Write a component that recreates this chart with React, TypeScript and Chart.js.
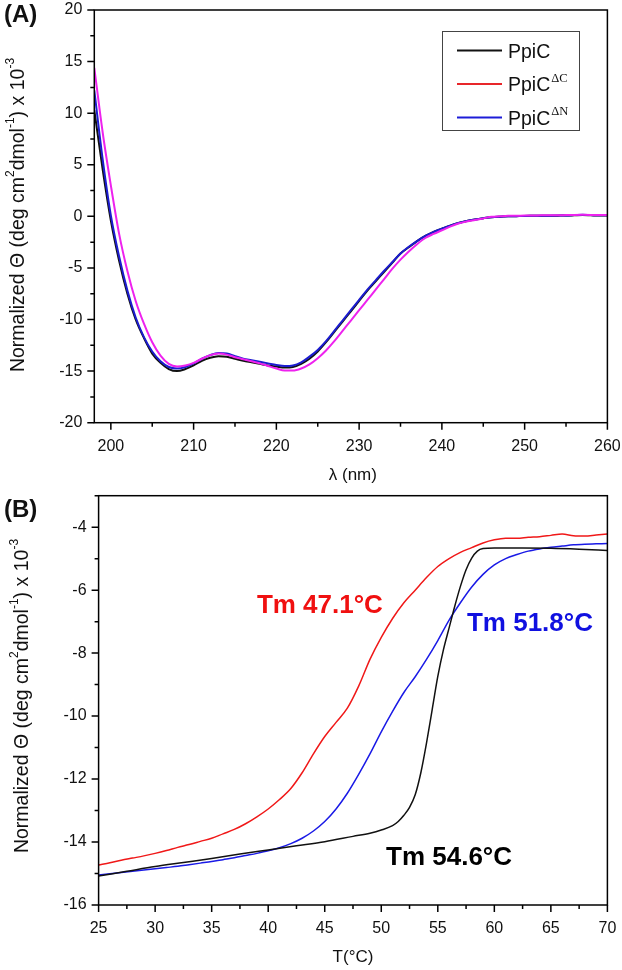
import { useEffect, useRef } from "react";
import { Chart, registerables } from "chart.js";
Chart.register(...registerables);

const FONT = '"Liberation Sans", Arial, sans-serif';
const SERIF = '"Liberation Serif", "Times New Roman", serif';

// ---------- Panel A: CD spectra ----------
const WAVELENGTH = [
  198, 199, 200, 201, 202, 203, 204, 205, 206, 207, 208, 209, 210, 211, 212, 213, 214, 215, 216, 217, 218,
  219, 220, 221, 222, 223, 224, 225, 226, 227, 228, 229, 230, 231, 232, 233, 234, 235, 236, 237, 238, 239,
  240, 241, 242, 243, 244, 245, 246, 247, 248, 249, 250, 251, 252, 253, 254, 255, 256, 257, 258, 259, 260,
];
const PPIC_CD = [
  10.3, 4.6, -0.4, -4.3, -7.5, -10.0, -11.8, -13.3, -14.2, -14.8, -15.0, -14.8, -14.45, -14.0, -13.7, -13.55,
  -13.6, -13.8, -14.0, -14.15, -14.3, -14.45, -14.55, -14.65, -14.6, -14.3, -13.8, -13.1, -12.2, -11.2, -10.2,
  -9.2, -8.2, -7.2, -6.3, -5.4, -4.5, -3.6, -3.0, -2.4, -1.9, -1.5, -1.2, -0.9, -0.65, -0.45, -0.3, -0.18,
  -0.08, -0.03, 0.0, 0.02, 0.04, 0.05, 0.06, 0.06, 0.07, 0.08, 0.1, 0.12, 0.1, 0.08, 0.08,
];
const PPIC_DC_CD = [
  14.4, 8.2, 3.0, -1.7, -5.3, -8.2, -10.4, -12.2, -13.5, -14.3, -14.55, -14.45, -14.2, -13.8, -13.45, -13.3,
  -13.4, -13.65, -13.85, -14.05, -14.25, -14.5, -14.75, -14.95, -14.95, -14.75, -14.35, -13.75, -13.0, -12.1,
  -11.1, -10.1, -9.1, -8.1, -7.1, -6.1, -5.1, -4.2, -3.4, -2.7, -2.1, -1.7, -1.35, -1.0, -0.7, -0.5, -0.35,
  -0.2, -0.05, 0.0, 0.05, 0.05, 0.08, 0.08, 0.1, 0.1, 0.1, 0.12, 0.14, 0.15, 0.14, 0.12, 0.12,
];
const PPIC_DN_CD = [
  12.2, 5.6, 0.1, -3.9, -7.2, -9.8, -11.7, -13.1, -14.05, -14.6, -14.75, -14.6, -14.25, -13.8, -13.45, -13.25,
  -13.3, -13.55, -13.8, -13.95, -14.1, -14.25, -14.4, -14.5, -14.45, -14.15, -13.6, -12.95, -12.1, -11.1,
  -10.1, -9.1, -8.1, -7.1, -6.2, -5.3, -4.45, -3.6, -2.95, -2.4, -1.9, -1.5, -1.2, -0.9, -0.65, -0.45, -0.3,
  -0.18, -0.08, -0.03, 0.0, 0.02, 0.04, 0.05, 0.06, 0.07, 0.08, 0.09, 0.12, 0.15, 0.12, 0.1, 0.1,
];

// ---------- Panel B: thermal melts ----------
const TEMP = [
  25, 26, 27, 28, 29, 30, 31, 32, 33, 34, 35, 36, 37, 38, 39, 40, 41, 42, 43, 44, 45, 46, 47, 48, 49, 50, 51,
  52, 53, 54, 55, 56, 57, 58, 59, 60, 61, 62, 63, 64, 65, 66, 67, 68, 69, 70,
];
const PPIC_DC_MELT = [
  -14.73, -14.66, -14.58, -14.51, -14.44, -14.36, -14.27, -14.17, -14.08, -13.98, -13.88, -13.74, -13.6, -13.42,
  -13.2, -12.95, -12.65, -12.3, -11.8, -11.2, -10.65, -10.2, -9.75, -9.05, -8.2, -7.5, -6.9, -6.4, -6.0, -5.6,
  -5.25, -5.0, -4.8, -4.65, -4.5, -4.4, -4.35, -4.35, -4.32, -4.3, -4.26, -4.22, -4.27, -4.28, -4.25, -4.22,
];
const PPIC_DN_MELT = [
  -15.05, -15.01, -14.97, -14.93, -14.89, -14.85, -14.81, -14.77, -14.72, -14.67, -14.62, -14.56, -14.5, -14.43,
  -14.36, -14.28, -14.18, -14.05, -13.88, -13.65, -13.35, -12.95, -12.45, -11.85, -11.2, -10.5, -9.85, -9.25,
  -8.75, -8.2, -7.6, -6.95, -6.4, -5.9, -5.5, -5.2, -5.0, -4.87, -4.76, -4.69, -4.64, -4.6, -4.56, -4.54, -4.53,
  -4.52,
];
const TEMP_PPIC = [
  25, 27.5, 30, 32.5, 35, 37.5, 40, 42.5, 45, 47.5, 49, 50, 51, 51.5, 52, 52.5, 53, 53.5, 54, 54.5, 55, 55.5,
  56, 56.5, 57, 57.5, 58, 58.5, 59, 60, 62.5, 65, 67.5, 70,
];
const PPIC_MELT = [
  -15.08, -14.93, -14.78, -14.65, -14.52, -14.38, -14.25, -14.12, -13.99, -13.82, -13.72, -13.62, -13.48, -13.35,
  -13.15, -12.9, -12.5, -11.8, -10.86, -9.8, -8.74, -7.89, -7.2, -6.51, -5.88, -5.35, -4.98, -4.76, -4.68,
  -4.66, -4.66, -4.67, -4.7, -4.74,
];

const TM_LABELS = [
  { text: "Tm 47.1°C", color: "#f01010", t: 39.0, v: -6.71 },
  { text: "Tm 51.8°C", color: "#1010e0", t: 57.58, v: -7.29 },
  { text: "Tm 54.6°C", color: "#000000", t: 50.42, v: -14.73 },
];

const LEGEND_ITEMS = [
  { name: "PpiC", sup: "", color: "#111111" },
  { name: "PpiC", sup: "ΔC", color: "#e8262a" },
  { name: "PpiC", sup: "ΔN", color: "#1c1cd8" },
];

type Seg = { t: string; sup?: boolean };
const Y_TITLE: Seg[] = [
  { t: "Normalized Θ (deg cm" },
  { t: "2", sup: true },
  { t: "dmol" },
  { t: "-1", sup: true },
  { t: ") x 10" },
  { t: "-3", sup: true },
];

function drawRich(ctx: CanvasRenderingContext2D, segs: Seg[], cx: number, cy: number, size: number, rot: number) {
  ctx.save();
  ctx.translate(cx, cy);
  ctx.rotate(rot);
  const sub = Math.round(size * 0.62);
  let total = 0;
  for (const s of segs) {
    ctx.font = `${s.sup ? sub : size}px ${FONT}`;
    total += ctx.measureText(s.t).width;
  }
  let x = -total / 2;
  ctx.fillStyle = "#111";
  ctx.textBaseline = "middle";
  ctx.textAlign = "left";
  for (const s of segs) {
    ctx.font = `${s.sup ? sub : size}px ${FONT}`;
    ctx.fillText(s.t, x, s.sup ? -size * 0.45 : 0);
    x += ctx.measureText(s.t).width;
  }
  ctx.restore();
}

function axisPlugin(xMajor: number, xMinor: number, yMajor: number, yMinor: number) {
  return {
    id: "frameTicks",
    afterDatasetsDraw(chart: any) {
      const { ctx, chartArea: a, scales } = chart;
      const xs = scales.x;
      const ys = scales.y;
      ctx.save();
      ctx.strokeStyle = "#000";
      ctx.lineWidth = 1.5;
      ctx.strokeRect(a.left, a.top, a.right - a.left, a.bottom - a.top);
      ctx.beginPath();
      const isMajor = (v: number, m: number) => Math.abs(v / m - Math.round(v / m)) < 1e-6;
      for (let v = Math.ceil(xs.min / xMinor) * xMinor; v <= xs.max + 1e-9; v += xMinor) {
        const px = xs.getPixelForValue(v);
        const len = isMajor(v, xMajor) ? 7 : 4;
        ctx.moveTo(px, a.bottom);
        ctx.lineTo(px, a.bottom + len);
      }
      for (let v = Math.ceil(ys.min / yMinor) * yMinor; v <= ys.max + 1e-9; v += yMinor) {
        const py = ys.getPixelForValue(v);
        const len = isMajor(v, yMajor) ? 7 : 4;
        ctx.moveTo(a.left, py);
        ctx.lineTo(a.left - len, py);
      }
      ctx.stroke();
      ctx.restore();
    },
  };
}

function baseScales(
  xMin: number, xMax: number, xStep: number, yMin: number, yMax: number, yStep: number,
  yWidth: number, xHeight: number,
) {
  const tickFont = { family: FONT, size: 16 };
  const noPad = (s: any) => {
    s.paddingLeft = 0;
    s.paddingRight = 0;
    s.paddingTop = 0;
    s.paddingBottom = 0;
  };
  return {
    x: {
      type: "linear" as const,
      min: xMin,
      max: xMax,
      grid: { display: false, drawTicks: false },
      border: { display: false },
      ticks: { stepSize: xStep, includeBounds: false, font: tickFont, color: "#111", padding: 14, maxRotation: 0,
        callback: (v: any) => String(v) },
      afterFit: (s: any) => { s.height = xHeight; noPad(s); },
    },
    y: {
      type: "linear" as const,
      min: yMin,
      max: yMax,
      grid: { display: false, drawTicks: false },
      border: { display: false },
      ticks: { stepSize: yStep, includeBounds: false, font: tickFont, color: "#111", padding: 12,
        callback: (v: any) => String(v) },
      afterFit: (s: any) => { s.width = yWidth; noPad(s); },
    },
  };
}

function line(label: string, xs: number[], ys: number[], color: string, order: number, width = 1.6) {
  return {
    label,
    data: xs.map((x, i) => ({ x, y: ys[i] })),
    borderColor: color,
    backgroundColor: color,
    borderWidth: width,
    pointRadius: 0,
    tension: 0.4,
    cubicInterpolationMode: "monotone" as const,
    fill: false,
    order,
  };
}

export default function App() {
  const refA = useRef<HTMLCanvasElement>(null);
  const refB = useRef<HTMLCanvasElement>(null);

  useEffect(() => {
    const textA = {
      id: "textA",
      afterDraw(chart: any) {
        const ctx = chart.ctx as CanvasRenderingContext2D;
        ctx.save();
        ctx.fillStyle = "#111";
        ctx.font = `bold 24px ${FONT}`;
        ctx.textAlign = "left";
        ctx.textBaseline = "alphabetic";
        ctx.fillText("(A)", 4, 22);
        ctx.font = `17px ${FONT}`;
        ctx.textAlign = "center";
        ctx.textBaseline = "middle";
        const a = chart.chartArea;
        ctx.fillText("λ (nm)", (a.left + a.right) / 2 + 2, 475);
        drawRich(ctx, Y_TITLE, 19, 215, 19.5, -Math.PI / 2);
        // legend box
        ctx.strokeStyle = "#444";
        ctx.lineWidth = 1;
        ctx.strokeRect(442.5, 31.5, 137, 99);
        LEGEND_ITEMS.forEach((it, i) => {
          const ly = 50.5 + i * 33.5;
          ctx.strokeStyle = it.color;
          ctx.lineWidth = 1.8;
          ctx.beginPath();
          ctx.moveTo(457, ly);
          ctx.lineTo(502, ly);
          ctx.stroke();
          ctx.fillStyle = "#111";
          ctx.textAlign = "left";
          ctx.textBaseline = "alphabetic";
          ctx.font = `19.5px ${FONT}`;
          ctx.fillText(it.name, 508, ly + 7);
          const w = ctx.measureText(it.name).width;
          if (it.sup) {
            ctx.font = `12.5px ${SERIF}`;
            ctx.fillText(it.sup, 508 + w + 1, ly - 2.5);
          }
        });
        ctx.restore();
      },
    };

    const a = new Chart(refA.current!, {
      type: "line",
      data: {
        datasets: [
          line("PpiC ΔC", WAVELENGTH, PPIC_DC_CD, "#ee22ee", 0, 2),
          line("PpiC ΔN", WAVELENGTH, PPIC_DN_CD, "#1c1cd0", 1, 2),
          line("PpiC", WAVELENGTH, PPIC_CD, "#111111", 2, 2),
        ],
      },
      options: {
        responsive: false,
        animation: false,
        layout: { padding: { top: 10, right: 14.6, left: 0, bottom: 0 } },
        plugins: { legend: { display: false }, tooltip: { enabled: false } },
        scales: baseScales(198, 260, 10, -20, 20, 5, 94.3, 490 - 422.7) as any,
      },
      plugins: [axisPlugin(10, 5, 5, 2.5), textA],
    });

    const textB = {
      id: "textB",
      afterDraw(chart: any) {
        const ctx = chart.ctx as CanvasRenderingContext2D;
        const { x, y } = chart.scales;
        ctx.save();
        ctx.fillStyle = "#111";
        ctx.font = `bold 24px ${FONT}`;
        ctx.textAlign = "left";
        ctx.textBaseline = "alphabetic";
        ctx.fillText("(B)", 4, 37);
        ctx.font = `17px ${FONT}`;
        ctx.textAlign = "center";
        ctx.textBaseline = "middle";
        const a = chart.chartArea;
        ctx.fillText("T(°C)", (a.left + a.right) / 2, 477);
        drawRich(ctx, Y_TITLE, 23, 216, 19.5, -Math.PI / 2);
        ctx.font = `bold 26px ${FONT}`;
        ctx.textAlign = "left";
        ctx.textBaseline = "alphabetic";
        for (const l of TM_LABELS) {
          ctx.fillStyle = l.color;
          ctx.fillText(l.text, x.getPixelForValue(l.t), y.getPixelForValue(l.v));
        }
        ctx.restore();
      },
    };

    const b = new Chart(refB.current!, {
      type: "line",
      data: {
        datasets: [
          line("PpiC", TEMP_PPIC, PPIC_MELT, "#111111", 0, 1.5),
          line("PpiC ΔN", TEMP, PPIC_DN_MELT, "#1a1ae6", 1, 1.5),
          line("PpiC ΔC", TEMP, PPIC_DC_MELT, "#f01818", 2, 1.5),
        ],
      },
      options: {
        responsive: false,
        animation: false,
        layout: { padding: { top: 15.7, right: 14.6, left: 0, bottom: 0 } },
        plugins: { legend: { display: false }, tooltip: { enabled: false } },
        scales: baseScales(25, 70, 5, -16, -3, 2, 98.6, 490 - 425) as any,
      },
      plugins: [axisPlugin(5, 2.5, 2, 1), textB],
    });

    return () => {
      a.destroy();
      b.destroy();
    };
  }, []);

  return (
    <div style={{ position: "absolute", left: 0, top: 0, width: 622, height: 970, background: "#fff" }}>
      <canvas ref={refA} width={622} height={490}
        style={{ position: "absolute", left: 0, top: 0, width: 622, height: 490 }} />
      <canvas ref={refB} width={622} height={490}
        style={{ position: "absolute", left: 0, top: 480, width: 622, height: 490 }} />
    </div>
  );
}
